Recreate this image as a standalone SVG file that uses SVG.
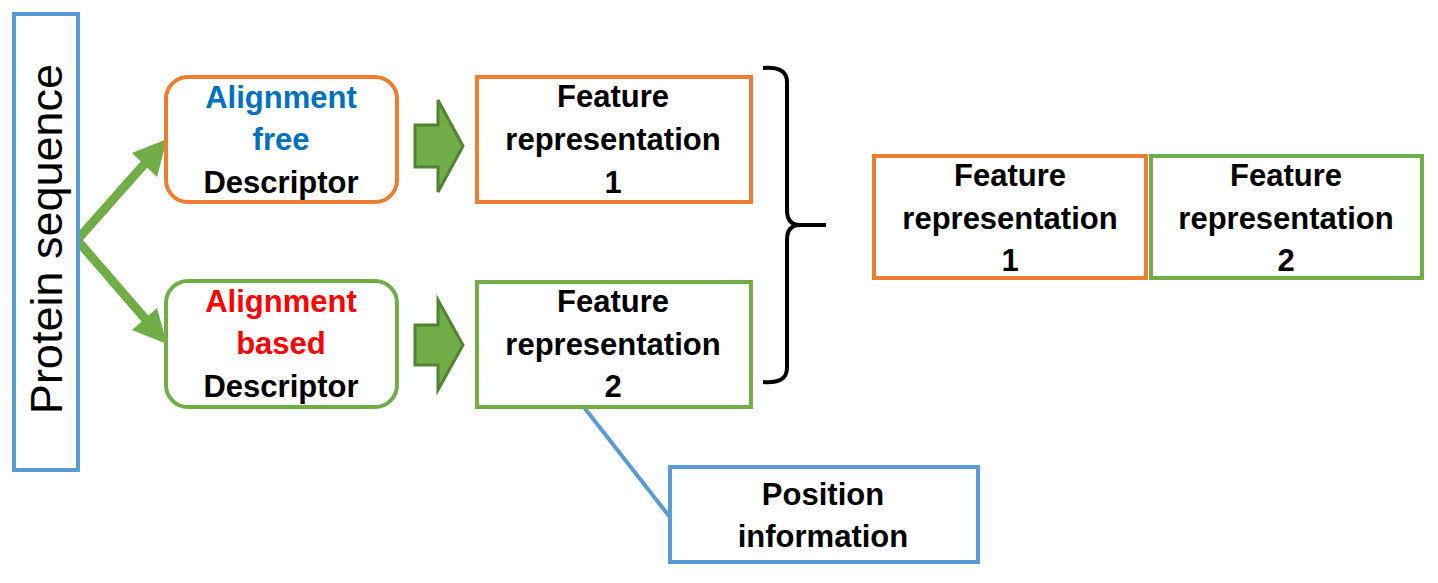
<svg xmlns="http://www.w3.org/2000/svg" width="1438" height="583" viewBox="0 0 1438 583">
<style>
.t{font-family:"Liberation Sans",Arial,sans-serif;font-weight:bold;font-size:31px;text-anchor:middle;fill:#000}
.or{fill:#fff;stroke:#ED7D31;stroke-width:4}
.gr{fill:#fff;stroke:#70AD47;stroke-width:4}
.bl{fill:#fff;stroke:#5B9BD5;stroke-width:4}
.blk{fill:#70AD47;stroke:#548235;stroke-width:3}
</style>
<rect width="1438" height="583" fill="#fff"/>
<g id="connectors">
<line x1="77" y1="240" x2="148" y2="160" stroke="#70AD47" stroke-width="9"/>
<polygon points="167,139 132,153 157,177" fill="#70AD47"/>
<line x1="77" y1="240" x2="148" y2="322" stroke="#70AD47" stroke-width="9"/>
<polygon points="167,344 132,330 157,308" fill="#70AD47"/>
<polygon class="blk" points="415,125 438,125 438,100 463,146 438,192 438,167 415,167"/>
<polygon class="blk" points="415,325 438,325 438,300 463,345 438,390 438,365 415,365"/>
<path d="M763,68 Q787,66 787,82 L787,210 Q787,225 800,225 L826,225 M800,225 Q787,225 787,240 L787,368 Q787,384 763,382" fill="none" stroke="#000" stroke-width="4"/>
<line x1="583" y1="406" x2="669" y2="516" stroke="#5B9BD5" stroke-width="4"/>
</g>
<g id="protein">
<rect class="bl" x="14" y="14" width="64" height="456"/>
<text transform="translate(62,239) rotate(-90)" font-family="Liberation Sans,Arial,sans-serif" font-size="45" text-anchor="middle" fill="#000">Protein sequence</text>
</g>
<g id="alignfree">
<rect class="or" x="166" y="77" width="231" height="125" rx="22"/>
<text class="t" x="281" y="108" style="fill:#0070C0">Alignment</text>
<text class="t" x="281" y="150" style="fill:#0070C0">free</text>
<text class="t" x="281" y="193">Descriptor</text>
</g>
<g id="alignbased">
<rect class="gr" x="166" y="281" width="231" height="126" rx="22"/>
<text class="t" x="281" y="312" style="fill:#FF0000">Alignment</text>
<text class="t" x="281" y="354" style="fill:#FF0000">based</text>
<text class="t" x="281" y="397">Descriptor</text>
</g>
<g id="feat1">
<rect class="or" x="477" y="77" width="274" height="125"/>
<text class="t" x="613" y="107">Feature</text>
<text class="t" x="613" y="150">representation</text>
<text class="t" x="613" y="193">1</text>
</g>
<g id="feat2">
<rect class="gr" x="477" y="282" width="274" height="125"/>
<text class="t" x="613" y="312">Feature</text>
<text class="t" x="613" y="355">representation</text>
<text class="t" x="613" y="397">2</text>
</g>
<g id="position">
<rect class="bl" x="670" y="467" width="308" height="95"/>
<text class="t" x="823" y="505">Position</text>
<text class="t" x="823" y="547">information</text>
</g>
<g id="combined1">
<rect class="or" x="874" y="156" width="272" height="122"/>
<text class="t" x="1010" y="186">Feature</text>
<text class="t" x="1010" y="229">representation</text>
<text class="t" x="1010" y="271">1</text>
</g>
<g id="combined2">
<rect class="gr" x="1151" y="156" width="271" height="122"/>
<text class="t" x="1286" y="186">Feature</text>
<text class="t" x="1286" y="229">representation</text>
<text class="t" x="1286" y="271">2</text>
</g>
</svg>
